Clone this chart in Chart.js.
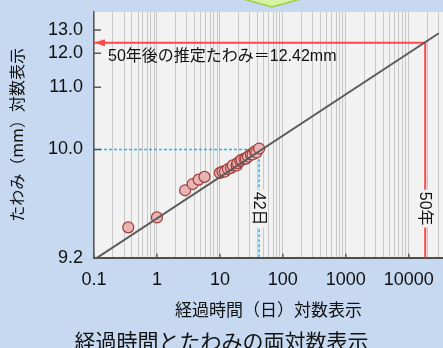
<!DOCTYPE html>
<html>
<head>
<meta charset="utf-8">
<script src="https://cdn.jsdelivr.net/npm/chart.js@4.4.0/dist/chart.umd.min.js"></script>
<style>
  html, body { margin: 0; padding: 0; background: #c6d9f1; }
  #wrap { width: 443px; height: 348px; position: relative; }
</style>
</head>
<body>
<div id="wrap"><canvas id="chart"></canvas></div>
<script>
// measured deflection (mm) against elapsed days
const days = [0.35, 1.0, 2.8, 3.7, 4.6, 5.7, 10, 11, 12, 13.4, 15, 16, 18.5, 19, 21, 22, 24.5, 26, 28, 31, 33, 36, 38, 42];
const deflection = [9.49, 9.53, 9.67, 9.71, 9.74, 9.76, 9.79, 9.80, 9.80, 9.82, 9.83, 9.85, 9.85, 9.87, 9.89, 9.90, 9.91, 9.91, 9.93, 9.95, 9.95, 9.98, 9.97, 10.01];

// fitted line (end points)
const fitDays = [0.1, 30000];
const fitDeflection = [9.39, 12.84];

// 50 year estimate and 42 day reading
const estDays = 18250;
const estDeflection = 12.42;
const obsDays = 42;
const obsDeflection = 10.0;

const xTickValues = [0.1, 1, 10, 100, 1000, 10000];
const xTickLabels = ['0.1', '1', '10', '100', '1000', '10000'];
const yTickValues = [9.395, 10, 11, 12, 13];
const yTickLabels = ['9.2', '10.0', '11.0', '12.0', '13.0'];

const X_MIN = 0.1, X_MAX = 35000;
const Y_MIN = 9.395, Y_MAX = 14.0;
// the deflection axis is logarithmic in (deflection - 9.2 mm)
const Y_BASE = 9.2;
const up = v => v - Y_BASE;

const RED = '#ff4848';
const BLUE = '#2db4ef';
const LATIN = "'Liberation Sans', 'Noto Sans CJK JP', sans-serif";
const CJK = "'Noto Sans CJK JP', 'Liberation Sans', sans-serif";

const decor = {
  id: 'decor',
  beforeDraw(chart) {
    const { ctx, chartArea: a } = chart;
    ctx.save();
    ctx.fillStyle = '#f2f2f2';
    ctx.fillRect(a.left, a.top, a.right - a.left, a.bottom - a.top);
    ctx.restore();
  },
  afterDatasetsDraw(chart) {
    const { ctx, chartArea: a, scales: { x, y } } = chart;
    ctx.save();
    // small inward tick marks
    ctx.strokeStyle = '#595959';
    ctx.lineWidth = 1.5;
    ctx.beginPath();
    yTickValues.forEach(v => {
      const py = y.getPixelForValue(up(v));
      ctx.moveTo(a.left, py); ctx.lineTo(a.left + 7, py);
    });
    xTickValues.forEach(v => {
      const px = x.getPixelForValue(v);
      ctx.moveTo(px, a.bottom); ctx.lineTo(px, a.bottom - 4);
    });
    ctx.stroke();

    // arrow head on the 50 year line
    const ay = y.getPixelForValue(up(estDeflection));
    ctx.fillStyle = RED;
    ctx.beginPath();
    ctx.moveTo(a.left, ay);
    ctx.lineTo(a.left + 11, ay - 3.5);
    ctx.lineTo(a.left + 11, ay + 3.5);
    ctx.closePath();
    ctx.fill();

    ctx.fillStyle = '#111';
    ctx.font = '16px ' + LATIN;
    ctx.textBaseline = 'middle';
    ctx.textAlign = 'left';
    ctx.fillText('50年後の推定たわみ＝12.42mm', a.left + 14, ay + 14);

    // vertical labels on the marker lines
    const ly = y.getPixelForValue(up(9.57));
    [[obsDays, '42日'], [estDays, '50年']].forEach(([d, t]) => {
      const px = x.getPixelForValue(d);
      ctx.save();
      ctx.translate(px, ly);
      ctx.rotate(Math.PI / 2);
      const w = ctx.measureText(t).width;
      ctx.fillStyle = '#f2f2f2';
      ctx.fillRect(-w / 2 - 2, -8, w + 4, 16);
      ctx.fillStyle = '#111';
      ctx.textAlign = 'center';
      ctx.fillText(t, 0, 1);
      ctx.restore();
    });
    ctx.restore();
  },
  afterDraw(chart) {
    // tip of the green arrow at the top
    const { ctx } = chart;
    ctx.save();
    ctx.fillStyle = '#d8f3a3';
    ctx.strokeStyle = '#98cf4a';
    ctx.lineWidth = 1.5;
    ctx.beginPath();
    ctx.moveTo(243, -1);
    ctx.lineTo(272, 7);
    ctx.lineTo(301, -1);
    ctx.closePath();
    ctx.fill();
    ctx.stroke();
    ctx.restore();
  }
};

new Chart(document.getElementById('chart'), {
  type: 'scatter',
  data: {
    datasets: [
      {
        type: 'line',
        data: fitDays.map((d, i) => ({ x: d, y: up(fitDeflection[i]) })),
        borderColor: '#5a5a5a',
        borderWidth: 2,
        pointRadius: 0,
        order: 0
      },
      {
        data: days.map((d, i) => ({ x: d, y: up(deflection[i]) })),
        backgroundColor: '#e9b5b4',
        borderColor: '#a03c3a',
        borderWidth: 1.2,
        pointRadius: 5.5,
        order: 1
      },
      {
        type: 'line',
        data: [
          { x: X_MIN, y: up(estDeflection) },
          { x: estDays, y: up(estDeflection) },
          { x: estDays, y: up(Y_MIN) }
        ],
        borderColor: RED,
        borderWidth: 2,
        pointRadius: 0,
        order: 2
      },
      {
        type: 'line',
        data: [
          { x: X_MIN, y: up(obsDeflection) },
          { x: obsDays, y: up(obsDeflection) },
          { x: obsDays, y: up(Y_MIN) }
        ],
        borderColor: BLUE,
        borderWidth: 1.5,
        borderDash: [3, 2],
        pointRadius: 0,
        order: 2
      }
    ]
  },
  options: {
    responsive: true,
    maintainAspectRatio: false,
    animation: false,
    layout: { autoPadding: false, padding: { top: 12, right: 0, bottom: 0, left: 0 } },
    plugins: {
      legend: { display: false },
      tooltip: { enabled: false },
      title: {
        display: true,
        position: 'bottom',
        text: '経過時間とたわみの両対数表示',
        color: '#111',
        font: { family: CJK, size: 21, weight: 'normal' },
        padding: { top: 0, bottom: -6 }
      }
    },
    scales: {
      x: {
        type: 'logarithmic',
        min: X_MIN,
        max: X_MAX,
        afterFit: s => { s.height = 71; },
        afterBuildTicks: s => {
          const t = [];
          xTickValues.forEach(d => {
            for (let m = 1; m <= 9; m++) {
              const v = m === 1 ? d : +(m * d).toPrecision(6);
              if (v <= X_MAX) t.push({ value: v, major: m === 1 });
            }
          });
          s.ticks = t;
        },
        grid: { color: '#c8c8c8', lineWidth: 1, drawTicks: true, tickLength: 11, tickColor: 'rgba(0,0,0,0)' },
        border: { color: '#4d4d4d', width: 2 },
        ticks: {
          autoSkip: false,
          maxRotation: 0,
          minRotation: 0,
          padding: 0,
          color: '#111',
          font: { family: LATIN, size: 18 },
          callback: v => {
            const i = xTickValues.indexOf(v);
            return i < 0 ? '' : xTickLabels[i];
          }
        },
        title: {
          display: true,
          text: '経過時間（日）対数表示',
          color: '#111',
          font: { family: CJK, size: 17 },
          padding: { top: 0, bottom: 9 }
        }
      },
      y: {
        type: 'logarithmic',
        min: up(Y_MIN),
        max: up(Y_MAX),
        afterFit: s => { s.width = 94; },
        afterBuildTicks: s => { s.ticks = yTickValues.map(v => ({ value: up(v) })); },
        grid: { display: false, drawTicks: true, tickLength: 11 },
        border: { color: '#595959', width: 1.5 },
        ticks: {
          padding: 0,
          color: '#111',
          font: { family: LATIN, size: 18 },
          callback: (v, i) => yTickLabels[i]
        },
        title: {
          display: true,
          text: 'たわみ（mm）対数表示',
          color: '#111',
          font: { family: CJK, size: 16 },
          padding: { top: 7, bottom: 0 }
        }
      }
    }
  },
  plugins: [decor]
});
</script>
</body>
</html>
